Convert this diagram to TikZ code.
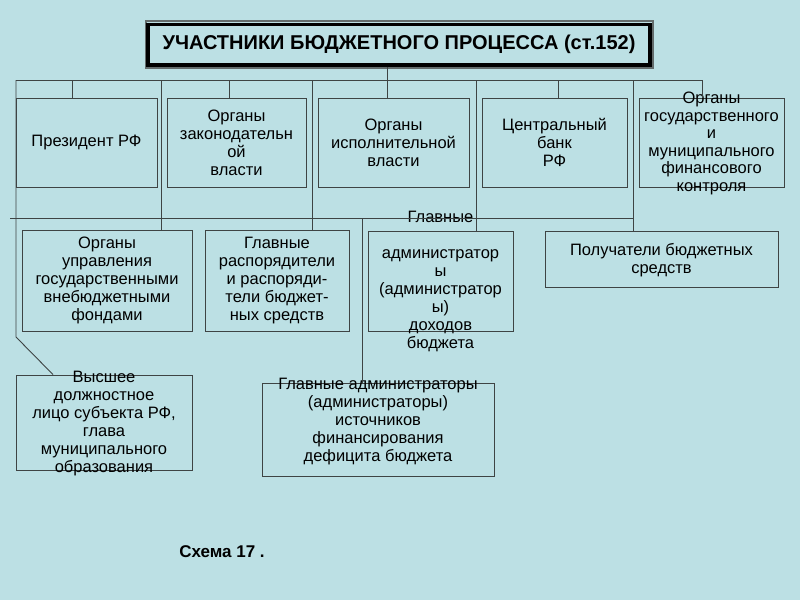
\documentclass[tikz,border=0pt]{standalone}
\usepackage{fontspec}
\setmainfont{Liberation Sans}
\definecolor{bgblue}{RGB}{188,224,228}
\definecolor{framegray}{RGB}{100,108,108}
\definecolor{linegray}{RGB}{62,68,68}

\begin{document}
\begin{tikzpicture}[x=1pt,y=-1pt]
	\tikzset{box/.style={draw=linegray,line width=0.9pt,inner sep=0pt},
		txt/.style={align=center,inner sep=0pt,font=\fontsize{16.5}{18}\selectfont},
		wire/.style={draw=linegray,line width=0.9pt}}
	\fill[bgblue] (0,0) rectangle (800,600);
	\useasboundingbox (0,0) rectangle (800,600);
	% title
	\draw[framegray,line width=2pt] (146,21) rectangle (653,68);
	\node[draw=black,line width=3.5pt,minimum width=502,minimum height=40.5,inner sep=0pt,font=\bfseries\fontsize{20}{24}\selectfont] (title) at (399,44.5) {УЧАСТНИКИ БЮДЖЕТНОГО ПРОЦЕССА (ст.152)};
	% first row
	\node[box,minimum width=141,minimum height=89,label={[txt]center:Президент РФ}] (pres) at (86.5,142.5) {};
	\node[box,minimum width=139,minimum height=89,label={[txt]center:{Органы\\законодательн\\ой\\власти}}] (leg) at (236.5,142.5) {};
	\node[box,minimum width=151,minimum height=89,label={[txt]center:{Органы\\исполнительной\\власти}}] (exe) at (393.5,142.5) {};
	\node[box,minimum width=145,minimum height=89,label={[txt]center:{Центральный\\банк\\РФ}}] (cb) at (554.5,142.5) {};
	\node[box,minimum width=145,minimum height=89,label={[txt,font=\fontsize{16.5}{17.5}\selectfont,yshift=-1pt]center:{Органы\\государственного\\и\\муниципального\\финансового\\контроля}}] (ctl) at (711.5,142.5) {};
	% second row
	\node[box,minimum width=170,minimum height=101,label={[txt]center:{Органы\\управления\\государственными\\внебюджетными\\фондами}}] (fund) at (107,280.5) {};
	\node[box,minimum width=144,minimum height=101,label={[txt]center:{Главные\\распорядители\\и распоряди-\\тели бюджет-\\ных средств}}] (mgr) at (277,280.5) {};
	\node[box,minimum width=145,minimum height=100,label={[txt]center:{Главные\\[18pt]администратор\\ы\\(администратор\\ы)\\доходов\\бюджета}}] (rev) at (440.5,281) {};
	\node[box,minimum width=233,minimum height=56,label={[txt,yshift=-1pt]center:{Получатели бюджетных\\средств}}] (rcp) at (661.5,259) {};
	% third row
	\node[box,minimum width=176,minimum height=95,label={[txt,yshift=-1pt]center:{Высшее\\должностное\\лицо субъекта РФ,\\глава\\муниципального\\образования}}] (head) at (104,422.5) {};
	\node[box,minimum width=232,minimum height=93,label={[txt,yshift=8pt]center:{Главные администраторы\\(администраторы)\\источников\\финансирования\\дефицита бюджета}}] (src) at (378,429.5) {};
	\node[font=\bfseries\fontsize{17}{18}\selectfont] (cap) at (222,552) {Схема 17 .};
	% buses
	\coordinate (tb) at (387,80);
	\draw[wire] (tb |- title.south) -- (tb);
	\draw[wire] (16,80) -- (702,80);
	\draw[wire] (10,218) -- (633,218);
	\foreach \x/\b in {72/pres,229/leg,387/exe,558/cb,702/ctl}
		{\coordinate (d\b) at (\x,80); \draw[wire] (d\b) -- (d\b |- \b.north);}
	\foreach \x/\b in {161/fund,312/mgr,476/rev,633/rcp}
		{\coordinate (d\b) at (\x,80); \draw[wire] (d\b) -- (d\b |- \b.north);}
	\coordinate (dsrc) at (362,218);
	\draw[wire] (dsrc) -- (dsrc |- src.north);
	\coordinate (dhead) at (16,80);
	\draw[wire] (dhead) -- (16,337) -- (head.north -| 53,0);
\end{tikzpicture}
\end{document}
